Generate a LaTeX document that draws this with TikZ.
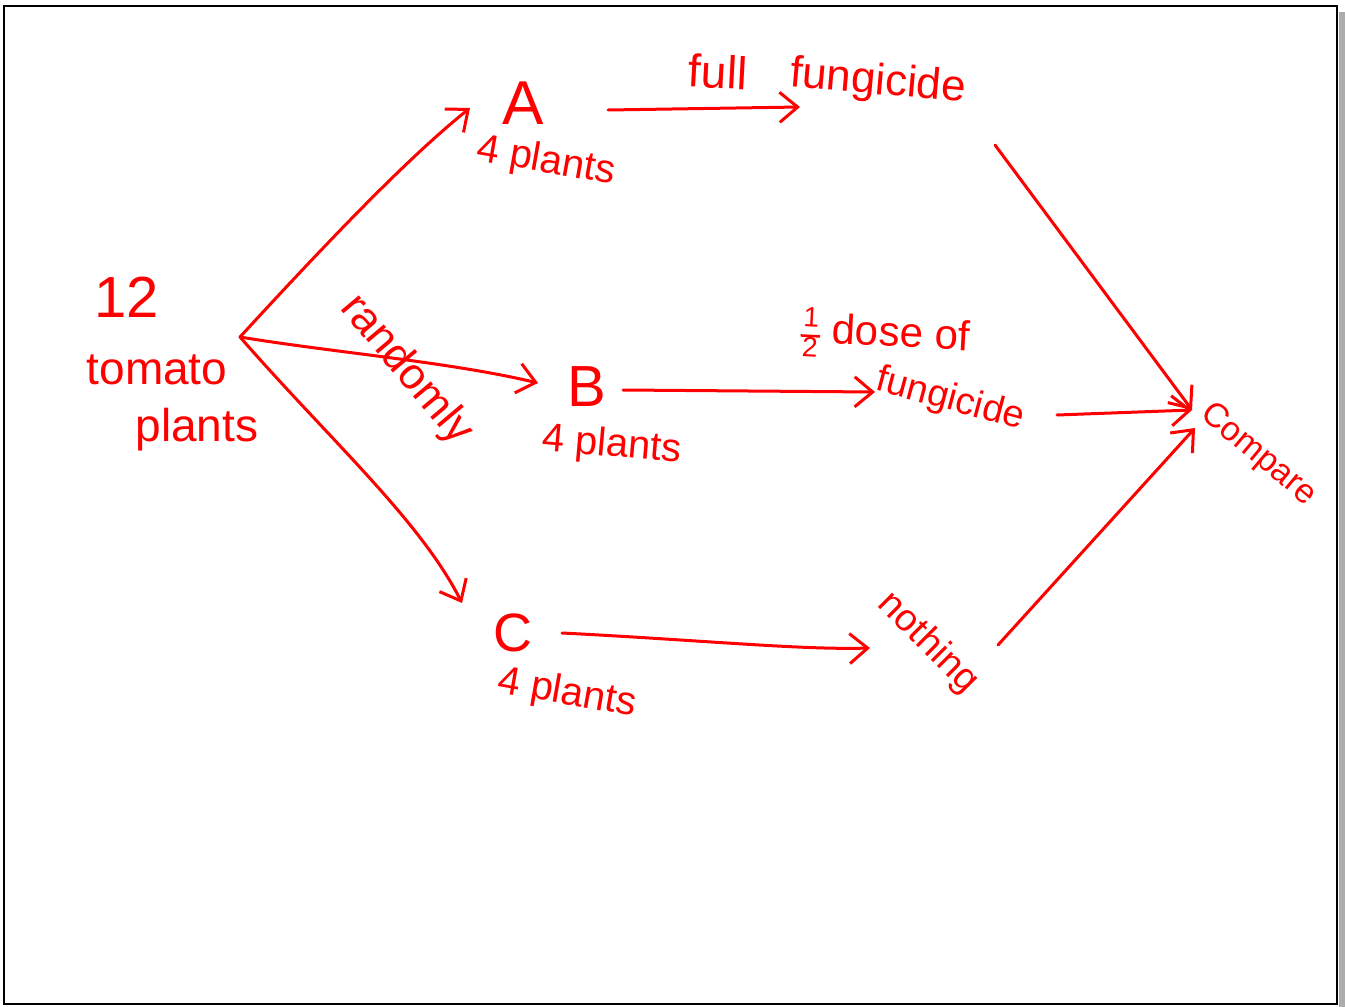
\documentclass[tikz,border=0pt]{standalone}
\usepackage{fontspec}
\setmainfont{Liberation Sans}
\usetikzlibrary{arrows.meta,calc}
\newcommand{\halffrac}{{\fontsize{28}{28}\selectfont\setlength{\arrayrulewidth}{2.5pt}\setlength{\tabcolsep}{2pt}\renewcommand{\arraystretch}{0.9}\begin{tabular}[c]{c}1\\\hline 2\end{tabular}}}
\begin{document}
\begin{tikzpicture}[x=1pt,y=-1pt,
  lbl/.style={text=red, inner sep=0pt, font=\fontsize{#1}{#1}\selectfont},
  lbl/.default=42,
  conn/.style={draw=red, line width=3pt, line cap=round, line join=round,
    -{Straight Barb[length=18pt,width=30pt]}}]
\useasboundingbox (0,0) rectangle (1345,1007);
\fill[gray!65] (1339,12) rectangle (1345,1007);
\draw[line width=2.6pt] (4,6) rectangle (1337,1004);
% source
\node[lbl=58] (n12) at (127,297) {12};
\node[lbl=46] (tomato) at (157,370) {tomato};
\node[lbl=46] (plants) at (197,430) {plants};
\coordinate (fork) at (240,337);
% groups
\node[lbl=62] (A) at (523,103) {A};
\node[lbl=40, rotate=-10] (pA) at (546,162) {4 plants};
\node[lbl=58] (B) at (587,387) {B};
\node[lbl=40, rotate=-5] (pB) at (612,446) {4 plants};
\node[lbl=54] (C) at (513,633) {C};
\node[lbl=40, rotate=-10] (pC) at (567,694) {4 plants};
% treatments
\node[lbl=46, rotate=-3] (full) at (718,72) {full};
\node[lbl=44, rotate=-5] (fungA) at (878,83) {fungicide};
\node[lbl=42, rotate=-3] (half) at (885,340) {\halffrac\ dose of};
\node[lbl=38, rotate=-15] (fungB) at (950,400) {fungicide};
\node[lbl=38, rotate=-45] (nothing) at (928,643) {nothing};
\node[lbl=34, rotate=-40] (cmp) at (1258,455) {Compare};
\node[lbl=44, rotate=-50] (rand) at (406,370) {randomly};
% connectors
\draw[conn] (fork) .. controls (320,250) and (405,160) .. ($(A)+(-53,5)$);
\draw[conn] (fork) .. controls (330,352) and (450,362) .. ($(B)+(-49,-4)$);
\draw[conn] (fork) .. controls (330,440) and (420,520) .. ($(C)+(-51,-30)$);
\draw[conn] ($(A)+(85,7)$) -- ($(fungA)+(-78,24)$);
\draw[conn] ($(B)+(36,3)$) -- ($(fungB)+(-75,-8)$);
\draw[conn] ($(C)+(49,0)$) .. controls (700,640) and (800,650) .. ($(nothing)+(-58,5)$);
\draw[conn] ($(fungA)+(117,62)$) -- ($(cmp)+(-66,-45)$);
\draw[conn] ($(fungB)+(107,15)$) -- ($(cmp)+(-66,-45)$);
\draw[conn] ($(nothing)+(70,2)$) -- ($(cmp)+(-63,-27)$);
\end{tikzpicture}
\end{document}
